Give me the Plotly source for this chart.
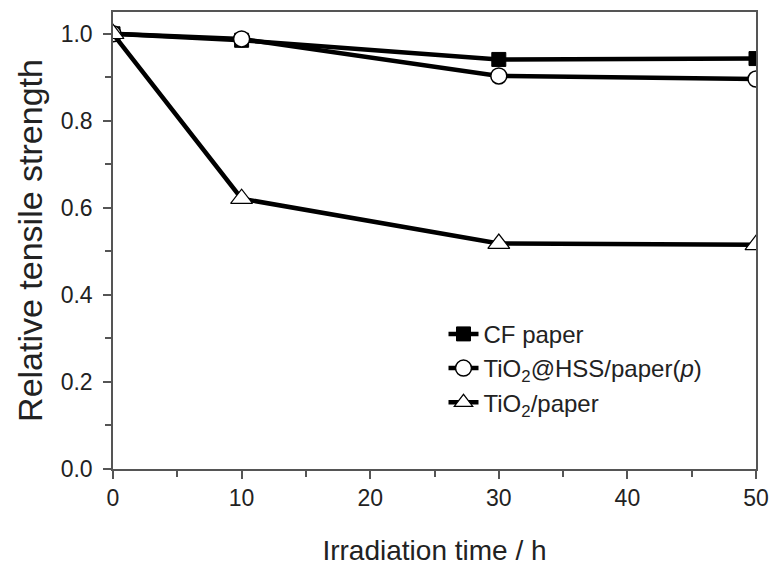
import plotly.graph_objects as go

time_h = [0, 10, 30, 50]
cf_paper = [1.0, 0.985, 0.941, 0.943]
tio2_hss = [1.0, 0.988, 0.903, 0.896]
tio2_paper = [1.0, 0.621, 0.518, 0.515]

names = ["CF paper", "TiO<sub>2</sub>@HSS/paper(<i>p</i>)", "TiO<sub>2</sub>/paper"]
x_ticks = [0, 10, 20, 30, 40, 50]
y_ticks = [0, 0.2, 0.4, 0.6, 0.8, 1.0]

FONT = "Liberation Sans, Arial, sans-serif"

fig = go.Figure()
fig.add_trace(go.Scatter(x=time_h, y=cf_paper, name=names[0], mode="lines+markers",
                         line=dict(color="black", width=4.5),
                         marker=dict(symbol="square", size=14, color="black",
                                     line=dict(color="black", width=1))))
fig.add_trace(go.Scatter(x=time_h, y=tio2_hss, name=names[1], mode="lines+markers",
                         line=dict(color="black", width=4.5),
                         marker=dict(symbol="circle", size=16, color="white",
                                     line=dict(color="black", width=1.5))))
fig.add_trace(go.Scatter(x=time_h, y=tio2_paper, name=names[2], mode="lines+markers",
                         line=dict(color="black", width=4.5),
                         marker=dict(symbol="triangle-up", size=19, color="white",
                                     line=dict(color="black", width=1.2))))

axis_common = dict(showline=True, linecolor="#555", linewidth=1.5, mirror=True,
                   ticks="outside", tickcolor="#555", ticklen=8, tickwidth=1.5,
                   showgrid=False, zeroline=False,
                   tickfont=dict(family=FONT, size=23, color="#222"))

fig.update_xaxes(range=[0, 50], tickvals=x_ticks,
                 minor=dict(tickvals=[5, 15, 25, 35, 45], ticks="outside", ticklen=6,
                            tickcolor="#555", tickwidth=1.5),
                 title=dict(text="Irradiation time / h", standoff=30,
                            font=dict(family=FONT, size=28, color="#222")),
                 **axis_common)
fig.update_yaxes(range=[0, 1.05], tickvals=y_ticks, tickformat=".1f",
                 ticklabelstandoff=6,
                 minor=dict(tickvals=[0.1, 0.3, 0.5, 0.7, 0.9], ticks="outside", ticklen=6,
                            tickcolor="#555", tickwidth=1.5),
                 title=dict(text="Relative tensile strength", standoff=8,
                            font=dict(family=FONT, size=34, color="#222")),
                 **axis_common)

fig.update_layout(
    width=779, height=571,
    margin=dict(l=113, r=16, t=10, b=96),
    plot_bgcolor="white", paper_bgcolor="white",
    font=dict(family=FONT, color="#222"),
    legend=dict(x=0.514, y=0.344, xanchor="left", yanchor="top",
                bgcolor="rgba(0,0,0,0)", font=dict(family=FONT, size=24, color="#222")),
    showlegend=True,
)

fig.write_html("out.html", config={"displayModeBar": False},
               post_script="document.body.style.margin='0';")
